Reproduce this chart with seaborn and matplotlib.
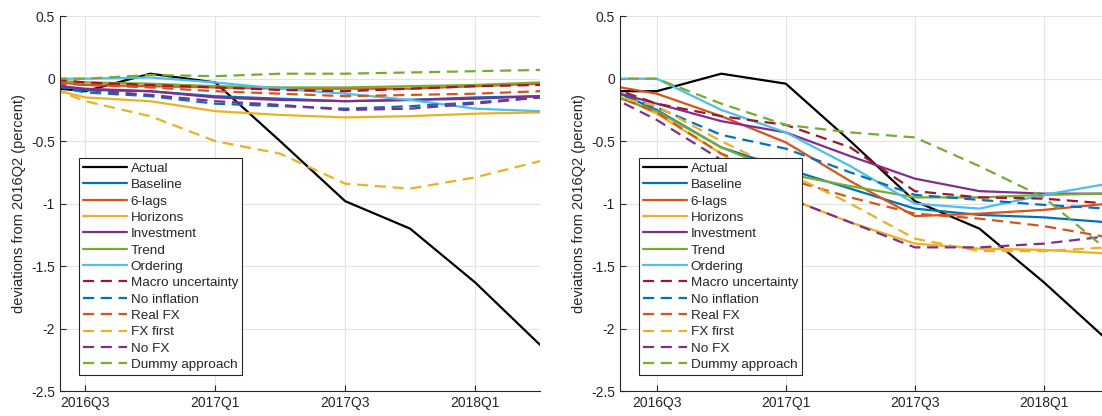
import numpy as np
import matplotlib
matplotlib.use('Agg')
import matplotlib.pyplot as plt
import seaborn as sns

# quarters: index 0 = 2016Q2 ... 8 = 2018Q2
QUARTERS = ['2016Q2', '2016Q3', '2016Q4', '2017Q1', '2017Q2',
            '2017Q3', '2017Q4', '2018Q1', '2018Q2']
TICK_LABELS = ['2016Q3', '2017Q1', '2017Q3', '2018Q1']

SERIES = ['Actual', 'Baseline', '6-lags', 'Horizons', 'Investment', 'Trend',
          'Ordering', 'Macro uncertainty', 'No inflation', 'Real FX',
          'FX first', 'No FX', 'Dummy approach']

# left panel
left_actual      = [-0.05, -0.10, 0.04, -0.03, -0.50, -0.98, -1.20, -1.63, -2.13]
left_baseline    = [-0.01, -0.09, -0.10, -0.14, -0.16, -0.18, -0.17, -0.15, -0.14]
left_six_lags    = [0.00, -0.05, -0.06, -0.07, -0.08, -0.08, -0.08, -0.06, -0.04]
left_horizons    = [-0.02, -0.15, -0.18, -0.26, -0.29, -0.31, -0.30, -0.28, -0.27]
left_investment  = [-0.03, -0.08, -0.10, -0.15, -0.17, -0.18, -0.17, -0.16, -0.14]
left_trend       = [0.00, -0.03, -0.04, -0.06, -0.07, -0.07, -0.06, -0.05, -0.03]
left_ordering    = [0.00, 0.00, 0.01, -0.03, -0.08, -0.12, -0.17, -0.24, -0.26]
left_macro       = [0.02, -0.03, -0.05, -0.07, -0.09, -0.10, -0.08, -0.06, -0.05]
left_no_infl     = [0.00, -0.11, -0.14, -0.20, -0.22, -0.24, -0.22, -0.19, -0.15]
left_real_fx     = [-0.02, -0.05, -0.07, -0.10, -0.12, -0.14, -0.13, -0.12, -0.10]
left_fx_first    = [0.02, -0.18, -0.30, -0.50, -0.60, -0.84, -0.88, -0.79, -0.66]
left_no_fx       = [0.01, -0.09, -0.13, -0.18, -0.21, -0.25, -0.24, -0.20, -0.15]
left_dummy       = [0.00, 0.00, 0.03, 0.02, 0.04, 0.04, 0.05, 0.06, 0.07]

# right panel
right_actual     = [-0.10, -0.10, 0.04, -0.04, -0.50, -0.98, -1.20, -1.63, -2.10]
right_baseline   = [-0.02, -0.25, -0.55, -0.72, -0.88, -1.04, -1.09, -1.11, -1.15]
right_six_lags   = [-0.03, -0.12, -0.30, -0.51, -0.82, -1.10, -1.08, -1.05, -1.00]
right_horizons   = [-0.04, -0.28, -0.60, -0.95, -1.15, -1.32, -1.36, -1.37, -1.40]
right_investment = [-0.06, -0.20, -0.34, -0.43, -0.62, -0.80, -0.90, -0.92, -0.92]
right_trend      = [-0.08, -0.26, -0.55, -0.76, -0.86, -0.95, -0.95, -0.93, -0.92]
right_ordering   = [0.00, 0.00, -0.25, -0.43, -0.70, -1.00, -1.04, -0.93, -0.84]
right_macro      = [-0.02, -0.20, -0.30, -0.37, -0.55, -0.90, -0.95, -0.96, -1.00]
right_no_infl    = [-0.05, -0.23, -0.45, -0.56, -0.75, -0.93, -0.97, -1.01, -1.04]
right_real_fx    = [-0.06, -0.27, -0.60, -0.80, -0.95, -1.08, -1.12, -1.18, -1.27]
right_fx_first   = [-0.10, -0.22, -0.50, -0.75, -1.00, -1.28, -1.38, -1.38, -1.35]
right_no_fx      = [-0.07, -0.33, -0.65, -0.95, -1.15, -1.35, -1.35, -1.32, -1.26]
right_dummy      = [0.00, 0.00, -0.20, -0.37, -0.43, -0.47, -0.70, -0.95, -1.38]

left_data = [left_actual, left_baseline, left_six_lags, left_horizons,
             left_investment, left_trend, left_ordering, left_macro,
             left_no_infl, left_real_fx, left_fx_first, left_no_fx, left_dummy]
right_data = [right_actual, right_baseline, right_six_lags, right_horizons,
              right_investment, right_trend, right_ordering, right_macro,
              right_no_infl, right_real_fx, right_fx_first, right_no_fx,
              right_dummy]

COLORS = ['black', '#0072BD', '#D95319', '#EDB120', '#7E2F8E', '#77AC30',
          '#4DBEEE', '#A2142F', '#0072BD', '#D95319', '#EDB120', '#7E2F8E',
          '#77AC30']
STYLES = ['-'] * 7 + ['--'] * 6

sns.set_style('ticks')
plt.rcParams['font.family'] = ['Liberation Sans', 'DejaVu Sans']

fig = plt.figure(figsize=(11.02, 4.16), dpi=100)
ax_l = fig.add_axes([0.0544, 0.06, 0.4356, 0.901])
ax_r = fig.add_axes([0.5626, 0.06, 0.4374, 0.901])

x = np.arange(len(QUARTERS))
for ax, data, xl in [(ax_l, left_data, (0.61, 8.0)), (ax_r, right_data, (0.43, 7.9))]:
    for name, vals, c, ls in zip(SERIES, data, COLORS, STYLES):
        sns.lineplot(x=x, y=vals, ax=ax, color=c, lw=1.6, label=name)
        ax.lines[-1].set_linestyle(ls)
        if ls == '--':
            ax.lines[-1].set_dashes((5, 3))
    ax.set_xlim(*xl)
    ax.set_ylim(-2.5, 0.5)
    ax.set_xticks([1, 3, 5, 7])
    ax.set_xticklabels(TICK_LABELS)
    ax.set_yticks([0.5, 0, -0.5, -1, -1.5, -2, -2.5])
    ax.set_yticklabels(['0.5', '0', '-0.5', '-1', '-1.5', '-2', '-2.5'])
    ax.grid(True, color='#e3e3e3', lw=0.8)
    ax.tick_params(direction='in', labelsize=10, colors='#262626', length=4)
    ax.spines['top'].set_visible(False)
    ax.spines['right'].set_visible(False)
    ax.set_ylabel('deviations from 2016Q2 (percent)', fontsize=10.5, color='#262626')
    leg = ax.legend(loc='lower left', bbox_to_anchor=(0.025, 0.025), fontsize=9.7,
                    frameon=True, fancybox=False, edgecolor='#262626',
                    framealpha=1, handlelength=3.3, labelspacing=0.29,
                    borderpad=0.3, handletextpad=0.25)
    leg.get_frame().set_linewidth(0.8)

fig.savefig('out.png', dpi=100)
